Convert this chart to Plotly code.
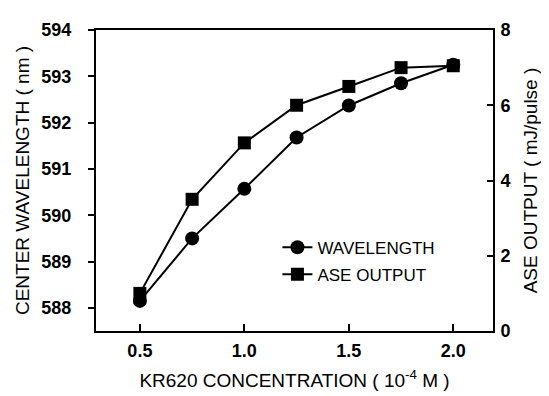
import plotly.graph_objects as go

concentration = [0.5, 0.75, 1.0, 1.25, 1.5, 1.75, 2.0]
wavelength_nm = [588.15, 589.5, 590.57, 591.68, 592.37, 592.85, 593.25]
ase_output_mj = [1.0, 3.5, 5.0, 6.0, 6.5, 7.0, 7.05]

x_ticks = [0.5, 1.0, 1.5, 2.0]
x_tick_labels = ["0.5", "1.0", "1.5", "2.0"]
y_ticks = [588, 589, 590, 591, 592, 593, 594]
y2_ticks = [0, 2, 4, 6, 8]

FONT = "Liberation Sans, Arial, sans-serif"

fig = go.Figure()
fig.add_trace(go.Scatter(
    x=concentration, y=wavelength_nm, name="WAVELENGTH",
    mode="lines+markers", legendgroup="a",
    line=dict(color="black", width=2),
    marker=dict(symbol="circle", size=14, color="black"),
))
fig.add_trace(go.Scatter(
    x=concentration, y=ase_output_mj, name="ASE OUTPUT",
    mode="lines+markers", yaxis="y2", legendgroup="b",
    line=dict(color="black", width=2),
    marker=dict(symbol="square", size=13, color="black"),
))

fig.update_layout(
    width=549, height=396,
    margin=dict(l=88, r=64, t=15, b=73),
    paper_bgcolor="white", plot_bgcolor="white",
    font=dict(family=FONT, color="black"),
    xaxis=dict(
        range=[0.29, 2.19], tickvals=x_ticks, ticktext=x_tick_labels,
        ticks="inside", ticklen=7, tickwidth=2, tickcolor="black",
        showline=True, linewidth=2, linecolor="black", mirror=True,
        showgrid=False, zeroline=False,
        tickfont=dict(size=18, weight="bold", color="black"), ticklabelstandoff=2,
        title=dict(text="KR620 CONCENTRATION ( 10<sup>-4</sup> M )",
                   font=dict(size=19, color="black"), standoff=14),
    ),
    yaxis=dict(
        range=[587.5, 594], tickvals=y_ticks,
        ticks="outside", ticklen=6, tickwidth=2, tickcolor="black",
        showline=True, linewidth=2, linecolor="black",
        showgrid=False, zeroline=False,
        tickfont=dict(size=18, weight="bold", color="black"), ticklabelstandoff=13,
        title=dict(text="CENTER WAVELENGTH ( nm )", font=dict(size=19, color="black"), standoff=7),
    ),
    yaxis2=dict(
        range=[0, 8], tickvals=y2_ticks, overlaying="y", side="right",
        ticks="inside", ticklen=6, tickwidth=2, tickcolor="black",
        showline=True, linewidth=2, linecolor="black",
        showgrid=False, zeroline=False,
        tickfont=dict(size=18, weight="bold", color="black"), ticklabelstandoff=2,
        title=dict(text="ASE OUTPUT ( mJ/pulse )", font=dict(size=19, color="black"), standoff=14),
    ),
    legend=dict(
        x=0.457, y=0.232, xanchor="left", yanchor="middle",
        bgcolor="rgba(0,0,0,0)", borderwidth=0,
        font=dict(size=17, color="black"), traceorder="grouped", tracegroupgap=2,
    ),
)

fig.write_html("out.html")
